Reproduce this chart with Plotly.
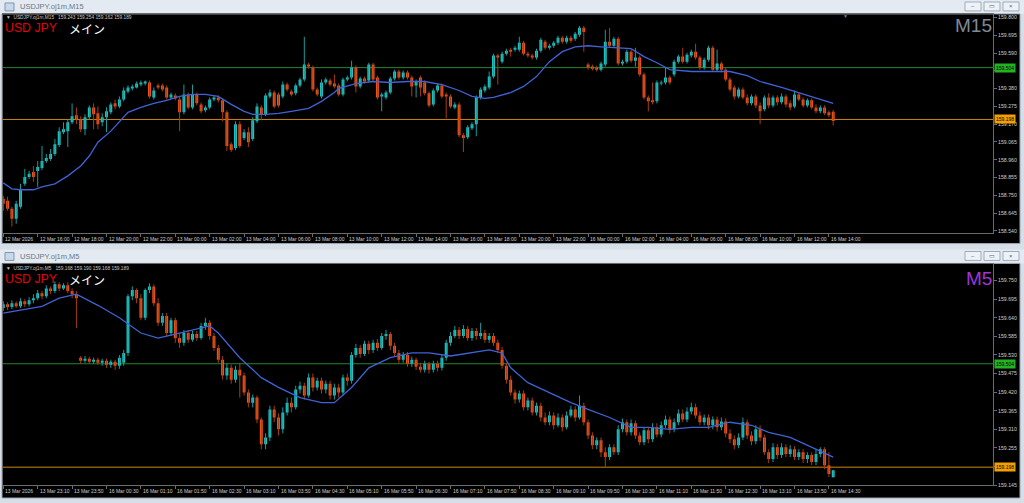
import plotly.graph_objects as go

W, H = 1024, 503

# ---------------- M15 (upper window) ----------------
M15_OPEN = [
158.730,158.718,158.671,158.612,158.683,158.818,158.859,158.888,158.894,158.912,
158.953,158.964,158.994,159.047,159.123,159.129,159.181,159.223,159.199,159.140,
159.211,159.269,159.234,159.181,159.211,159.240,159.293,159.275,159.316,159.363,
159.381,159.387,159.404,159.410,159.416,159.328,159.399,159.399,159.387,159.328,
159.340,159.316,159.240,159.346,159.269,159.346,159.287,159.252,159.269,159.316,
159.328,159.311,159.240,159.052,159.029,159.170,159.088,159.123,159.082,159.187,
159.269,159.228,159.334,159.357,159.346,159.334,159.404,159.363,159.352,159.399,
159.434,159.522,159.504,159.375,159.334,159.416,159.428,159.410,159.399,159.346,
159.434,159.445,159.504,159.393,159.440,159.428,159.522,159.445,159.334,159.328,
159.357,159.440,159.481,159.445,159.475,159.445,159.399,159.445,159.416,159.352,
159.287,159.369,159.399,159.346,159.334,159.269,159.287,159.105,159.093,159.146,
159.170,159.328,159.369,159.387,159.451,159.575,159.539,159.586,159.610,159.610,
159.610,159.651,159.586,159.575,159.563,159.604,159.657,159.621,159.633,159.651,
159.680,159.657,159.680,159.674,159.698,159.739,159.522,159.510,159.504,159.492,
159.522,159.657,159.633,159.674,159.528,159.539,159.598,159.545,159.563,159.463,
159.328,159.311,159.305,159.410,159.416,159.445,159.463,159.539,159.569,159.539,
159.575,159.598,159.563,159.504,159.551,159.621,159.492,159.528,159.492,159.434,
159.387,159.334,159.375,159.328,159.293,159.334,159.281,159.258,159.328,159.281,
159.328,159.299,159.334,159.293,159.275,159.346,159.316,159.281,159.311,159.269,
159.246,159.269,159.240,159.243]
M15_HIGH = [
158.747,158.742,158.683,158.718,158.818,158.906,158.894,158.923,158.953,159.041,
158.994,159.023,159.082,159.152,159.181,159.199,159.293,159.269,159.217,159.228,
159.281,159.293,159.275,159.234,159.269,159.299,159.316,159.334,159.387,159.399,
159.404,159.422,159.428,159.428,159.428,159.387,159.410,159.410,159.399,159.357,
159.352,159.334,159.404,159.357,159.404,159.357,159.299,159.281,159.328,159.340,
159.340,159.322,159.252,159.064,159.187,159.187,159.140,159.152,159.211,159.293,
159.281,159.352,159.375,159.369,159.357,159.422,159.416,159.375,159.410,159.445,
159.686,159.533,159.516,159.387,159.434,159.445,159.440,159.463,159.410,159.445,
159.457,159.545,159.516,159.451,159.451,159.533,159.533,159.457,159.357,159.369,
159.451,159.492,159.492,159.487,159.487,159.457,159.434,159.457,159.428,159.363,
159.381,159.410,159.410,159.357,159.346,159.299,159.299,159.117,159.164,159.181,
159.340,159.387,159.404,159.481,159.586,159.586,159.598,159.616,159.621,159.633,
159.686,159.662,159.598,159.586,159.616,159.680,159.668,159.645,159.662,159.692,
159.692,159.692,159.692,159.715,159.750,159.750,159.533,159.522,159.516,159.539,
159.727,159.739,159.686,159.686,159.551,159.610,159.610,159.621,159.575,159.475,
159.340,159.416,159.428,159.428,159.504,159.457,159.551,159.580,159.621,159.592,
159.610,159.645,159.575,159.563,159.633,159.633,159.610,159.539,159.504,159.445,
159.399,159.387,159.387,159.346,159.346,159.346,159.299,159.340,159.352,159.340,
159.340,159.352,159.346,159.311,159.369,159.357,159.328,159.322,159.322,159.287,
159.281,159.281,159.252,159.254]
M15_LOW = [
158.659,158.659,158.566,158.583,158.671,158.806,158.847,158.830,158.800,158.900,
158.941,158.953,158.982,159.035,159.111,159.035,159.170,159.170,159.123,159.105,
159.199,159.140,159.140,159.158,159.123,159.228,159.258,159.264,159.305,159.352,
159.369,159.381,159.393,159.399,159.322,159.316,159.375,159.363,159.316,159.316,
159.311,159.129,159.228,159.258,159.258,159.281,159.234,159.240,159.258,159.305,
159.299,159.187,159.011,159.006,159.017,159.029,159.076,159.035,159.070,159.176,
159.193,159.217,159.322,159.264,159.269,159.322,159.363,159.334,159.340,159.387,
159.422,159.498,159.363,159.334,159.322,159.404,159.393,159.381,159.334,159.334,
159.422,159.434,159.357,159.381,159.410,159.416,159.422,159.316,159.246,159.316,
159.346,159.428,159.434,159.434,159.434,159.334,159.328,159.334,159.340,159.269,
159.275,159.357,159.322,159.205,159.264,159.258,159.093,159.006,159.082,159.135,
159.099,159.316,159.357,159.375,159.440,159.404,159.528,159.575,159.569,159.598,
159.598,159.575,159.563,159.551,159.551,159.592,159.610,159.610,159.621,159.639,
159.645,159.645,159.651,159.662,159.686,159.598,159.492,159.487,159.481,159.481,
159.510,159.621,159.621,159.516,159.516,159.528,159.533,159.510,159.451,159.316,
159.246,159.287,159.293,159.399,159.404,159.404,159.451,159.528,159.528,159.528,
159.563,159.551,159.492,159.492,159.539,159.481,159.481,159.475,159.422,159.363,
159.316,159.322,159.316,159.281,159.281,159.264,159.170,159.246,159.264,159.269,
159.281,159.287,159.269,159.252,159.264,159.305,159.269,159.269,159.258,159.234,
159.234,159.223,159.211,159.162]
M15_CLOSE = [
158.701,158.671,158.612,158.701,158.788,158.859,158.877,158.859,158.918,158.953,
158.970,158.994,159.052,159.129,159.140,159.181,159.217,159.199,159.140,159.211,
159.269,159.228,159.170,159.211,159.246,159.287,159.275,159.316,159.369,159.387,
159.393,159.410,159.416,159.422,159.334,159.369,159.387,159.375,159.328,159.346,
159.322,159.240,159.346,159.269,159.346,159.293,159.246,159.269,159.316,159.328,
159.311,159.240,159.041,159.017,159.170,159.041,159.123,159.064,159.193,159.275,
159.228,159.340,159.357,159.275,159.281,159.404,159.375,159.346,159.399,159.434,
159.522,159.510,159.375,159.346,159.416,159.434,159.404,159.393,159.346,159.434,
159.445,159.504,159.393,159.440,159.422,159.522,159.434,159.328,159.346,159.357,
159.440,159.481,159.445,159.475,159.445,159.393,159.422,159.387,159.352,159.281,
159.369,159.399,159.334,159.334,159.275,159.287,159.105,159.088,159.152,159.170,
159.328,159.375,159.393,159.451,159.575,159.563,159.586,159.604,159.598,159.621,
159.651,159.586,159.575,159.563,159.604,159.668,159.621,159.633,159.651,159.680,
159.657,159.680,159.662,159.704,159.739,159.715,159.504,159.498,159.492,159.528,
159.657,159.633,159.674,159.528,159.539,159.598,159.545,159.563,159.463,159.328,
159.305,159.299,159.416,159.416,159.445,159.416,159.539,159.569,159.539,159.580,
159.598,159.563,159.504,159.551,159.621,159.492,159.528,159.492,159.434,159.375,
159.334,159.375,159.328,159.293,159.334,159.281,159.246,159.328,159.281,159.328,
159.299,159.334,159.287,159.269,159.346,159.316,159.281,159.311,159.269,159.246,
159.269,159.234,159.223,159.189]
M15_MA_IDX = [0,2,4,7,9,12,15,18,20,22,25,27,29,32,35,38,41,44,47,50,53,56,58,61,64,
              67,71,74,77,78,82,86,90,94,98,102,106,109,112,114,118,121,124,127,130,
              133,136,139,143,146,149,152,155,160,164,169,173,176,181,185,190,193]
M15_MA = [158.824,158.788,158.783,158.783,158.800,158.818,158.865,158.923,158.982,159.064,
          159.129,159.187,159.240,159.269,159.293,159.311,159.334,159.346,159.346,159.334,
          159.287,159.246,159.228,159.228,159.234,159.246,159.264,159.305,159.357,159.381,
          159.410,159.422,159.416,159.422,159.422,159.404,159.369,159.334,159.322,159.328,
          159.357,159.393,159.451,159.539,159.598,159.627,159.633,159.627,159.621,159.616,
          159.569,159.533,159.492,159.481,159.481,159.481,159.457,159.422,159.387,159.357,
          159.316,159.293]
M15_PRICE_TICKS = [158.540,158.645,158.750,158.855,158.960,159.065,159.170,159.275,
                   159.380,159.485,159.590,159.695,159.800]
M15_TIME_IDX = [0,8,16,24,32,40,48,56,64,72,80,88,96,104,112,120,128,136,144,152,160,168,176,184,192]
M15_TIME_TEXT = ["12 Mar 2026","12 Mar 16:00","12 Mar 18:00","12 Mar 20:00","12 Mar 22:00",
                 "13 Mar 00:00","13 Mar 02:00","13 Mar 04:00","13 Mar 06:00","13 Mar 08:00",
                 "13 Mar 10:00","13 Mar 12:00","13 Mar 14:00","13 Mar 16:00","13 Mar 18:00",
                 "13 Mar 20:00","13 Mar 22:00","16 Mar 00:00","16 Mar 02:00","16 Mar 04:00",
                 "16 Mar 06:00","16 Mar 08:00","16 Mar 10:00","16 Mar 12:00","16 Mar 14:00"]

# ---------------- M5 (lower window) ----------------
M5_OPEN = [
159.669,159.680,159.672,159.683,159.674,159.689,159.680,159.692,159.698,159.713,
159.704,159.727,159.719,159.739,159.727,159.736,159.719,159.710,159.522,159.513,
159.519,159.510,159.516,159.507,159.513,159.501,159.510,159.498,159.507,159.536,
159.704,159.722,159.698,159.640,159.722,159.733,159.683,159.625,159.645,159.595,
159.633,159.580,159.566,159.595,159.575,159.592,159.580,159.616,159.625,159.586,
159.551,159.516,159.469,159.492,159.457,159.486,159.469,159.419,159.389,159.404,
159.339,159.266,159.286,159.369,159.345,159.310,159.360,159.389,159.375,159.428,
159.439,159.410,159.463,159.434,159.454,159.428,159.445,159.410,159.434,159.419,
159.463,159.454,159.530,159.551,159.533,159.563,159.545,159.566,159.551,159.586,
159.592,159.557,159.536,159.516,159.530,159.504,159.516,159.495,159.486,159.504,
159.486,159.504,159.492,159.522,159.566,159.586,159.604,159.586,159.607,159.580,
159.601,159.586,159.595,159.575,159.586,159.566,159.545,159.498,159.457,159.419,
159.398,159.416,159.375,159.395,159.360,159.380,159.345,159.331,159.351,159.322,
159.345,159.316,159.351,159.369,159.345,159.380,159.331,159.292,159.263,159.278,
159.242,159.228,159.257,159.242,159.310,159.331,159.301,159.328,159.292,159.272,
159.307,159.281,159.316,159.295,159.322,159.339,159.310,159.331,159.357,159.339,
159.363,159.375,159.351,159.331,159.345,159.322,159.339,159.316,159.333,159.298,
159.281,159.263,159.286,159.331,159.292,159.275,159.310,159.286,159.242,159.222,
159.257,159.234,159.257,159.237,159.251,159.228,159.242,159.222,159.234,159.213,
159.237,159.251,159.204,159.168]
M5_HIGH = [
159.689,159.686,159.692,159.689,159.698,159.695,159.701,159.710,159.722,159.719,
159.736,159.733,159.748,159.745,159.742,159.745,159.727,159.719,159.527,159.527,
159.525,159.522,159.522,159.519,159.519,159.516,159.516,159.530,159.545,159.710,
159.733,159.727,159.710,159.727,159.742,159.739,159.698,159.654,159.654,159.640,
159.640,159.595,159.604,159.604,159.601,159.601,159.625,159.640,159.633,159.595,
159.560,159.527,159.504,159.501,159.498,159.507,159.478,159.428,159.413,159.410,
159.345,159.298,159.380,159.380,159.357,159.375,159.404,159.404,159.439,159.451,
159.448,159.475,159.475,159.463,159.463,159.454,159.454,159.445,159.445,159.472,
159.475,159.539,159.563,159.560,159.572,159.572,159.575,159.577,159.595,159.604,
159.598,159.566,159.545,159.539,159.539,159.525,159.522,159.507,159.513,159.510,
159.513,159.513,159.530,159.575,159.598,159.616,159.613,159.619,159.616,159.610,
159.610,159.625,159.604,159.595,159.595,159.575,159.554,159.507,159.469,159.428,
159.425,159.425,159.404,159.404,159.389,159.389,159.360,159.363,159.360,159.357,
159.354,159.363,159.380,159.378,159.410,159.389,159.339,159.301,159.286,159.286,
159.257,159.266,159.266,159.322,159.342,159.339,159.339,159.336,159.301,159.316,
159.316,159.328,159.328,159.333,159.351,159.348,159.342,159.369,159.369,159.375,
159.389,159.386,159.363,159.354,159.354,159.348,159.348,159.345,159.342,159.310,
159.292,159.298,159.345,159.339,159.304,159.322,159.322,159.295,159.251,159.269,
159.266,159.269,159.266,159.263,159.260,159.251,159.251,159.242,159.242,159.251,
159.257,159.257,159.242,159.190]
M5_LOW = [
159.660,159.663,159.666,159.669,159.669,159.672,159.674,159.683,159.692,159.695,
159.698,159.710,159.713,159.719,159.722,159.713,159.698,159.610,159.504,159.507,
159.504,159.504,159.501,159.498,159.492,159.492,159.486,159.489,159.498,159.527,
159.692,159.683,159.633,159.633,159.713,159.674,159.616,159.616,159.586,159.586,
159.566,159.551,159.557,159.566,159.569,159.572,159.575,159.604,159.575,159.542,
159.507,159.457,159.457,159.445,159.448,159.404,159.410,159.375,159.375,159.328,
159.251,159.251,159.275,159.331,159.292,159.298,159.351,159.360,159.369,159.416,
159.398,159.404,159.422,159.425,159.416,159.416,159.398,159.398,159.404,159.410,
159.439,159.445,159.522,159.522,159.527,159.533,159.536,159.542,159.545,159.575,
159.545,159.527,159.504,159.507,159.495,159.495,159.486,159.478,159.478,159.475,
159.478,159.481,159.484,159.513,159.557,159.580,159.577,159.580,159.572,159.572,
159.575,159.577,159.566,159.566,159.557,159.536,159.489,159.445,159.410,159.386,
159.389,159.366,159.366,159.351,159.351,159.333,159.322,159.322,159.310,159.316,
159.304,159.310,159.345,159.333,159.339,159.322,159.281,159.251,159.251,159.228,
159.198,159.219,159.234,159.234,159.301,159.292,159.292,159.281,159.263,159.263,
159.269,159.272,159.286,159.286,159.313,159.298,159.301,159.322,159.331,159.331,
159.354,159.342,159.322,159.322,159.310,159.310,159.304,159.307,159.286,159.269,
159.251,159.254,159.278,159.281,159.263,159.266,159.275,159.234,159.210,159.213,
159.222,159.225,159.228,159.228,159.219,159.219,159.210,159.210,159.204,159.204,
159.228,159.192,159.169,159.168]
M5_CLOSE = [
159.680,159.672,159.683,159.674,159.689,159.680,159.692,159.698,159.713,159.704,
159.727,159.719,159.739,159.727,159.736,159.719,159.710,159.698,159.513,159.519,
159.510,159.516,159.507,159.513,159.501,159.510,159.498,159.522,159.536,159.704,
159.722,159.698,159.640,159.722,159.733,159.683,159.625,159.645,159.595,159.633,
159.580,159.566,159.595,159.575,159.592,159.580,159.616,159.625,159.586,159.551,
159.516,159.469,159.492,159.457,159.486,159.469,159.419,159.389,159.404,159.339,
159.266,159.286,159.369,159.345,159.310,159.360,159.389,159.375,159.428,159.439,
159.410,159.463,159.434,159.454,159.428,159.445,159.410,159.434,159.419,159.463,
159.454,159.530,159.551,159.533,159.563,159.545,159.566,159.551,159.586,159.592,
159.557,159.536,159.516,159.530,159.504,159.516,159.495,159.486,159.504,159.486,
159.504,159.492,159.522,159.566,159.586,159.604,159.586,159.607,159.580,159.601,
159.586,159.595,159.575,159.586,159.566,159.545,159.498,159.457,159.419,159.398,
159.416,159.375,159.395,159.360,159.380,159.345,159.331,159.351,159.322,159.345,
159.316,159.351,159.369,159.345,159.380,159.331,159.292,159.263,159.278,159.242,
159.228,159.257,159.242,159.310,159.331,159.301,159.328,159.292,159.272,159.307,
159.281,159.316,159.295,159.322,159.339,159.310,159.331,159.357,159.339,159.363,
159.375,159.351,159.331,159.345,159.322,159.339,159.316,159.333,159.298,159.281,
159.263,159.286,159.331,159.292,159.275,159.310,159.286,159.242,159.222,159.257,
159.234,159.257,159.237,159.251,159.228,159.242,159.222,159.234,159.213,159.237,
159.251,159.204,159.178,159.189]
M5_MA_IDX = [0,4,9,13,17,22,27,32,36,41,46,48,50,55,60,64,69,74,77,81,85,90,95,99,104,
             109,113,116,118,122,127,132,136,141,146,150,155,160,164,169,174,178,183,188,193]
M5_MA = [159.654,159.663,159.674,159.698,159.710,159.677,159.640,159.595,159.580,159.595,
         159.610,159.616,159.595,159.522,159.463,159.434,159.404,159.389,159.389,159.434,
         159.492,159.522,159.536,159.536,159.527,159.536,159.545,159.536,159.492,159.448,
         159.419,159.389,159.369,159.345,159.316,159.316,159.310,159.316,159.316,159.331,
         159.322,159.301,159.286,159.257,159.228]
M5_PRICE_TICKS = [159.145,159.200,159.255,159.310,159.365,159.420,159.475,159.530,
                  159.585,159.640,159.695,159.750]
M5_TIME_IDX = [0,8,16,24,32,40,48,56,64,72,80,88,96,104,112,120,128,136,144,152,160,168,176,184,192]
M5_TIME_TEXT = ["13 Mar 2026","13 Mar 23:10","13 Mar 23:50","16 Mar 00:30","16 Mar 01:10",
                "16 Mar 01:50","16 Mar 02:30","16 Mar 03:10","16 Mar 03:50","16 Mar 04:30",
                "16 Mar 05:10","16 Mar 05:50","16 Mar 06:30","16 Mar 07:10","16 Mar 07:50",
                "16 Mar 08:30","16 Mar 09:10","16 Mar 09:50","16 Mar 10:30","16 Mar 11:10",
                "16 Mar 11:50","16 Mar 12:30","16 Mar 13:10","16 Mar 13:50","16 Mar 14:30"]

LEVEL_GREEN = 159.504
LEVEL_ORANGE = 159.198

for arr in (M15_OPEN, M15_HIGH, M15_LOW, M15_CLOSE, M5_OPEN, M5_HIGH, M5_LOW, M5_CLOSE):
    assert len(arr) == 194, len(arr)

# ---------------- styles ----------------
BULL = "#1ec8c8"
BEAR = "#f7561a"
WICK_UP = "#1b9a9a"
WICK_DN = "#a83c12"
MA_COLOR = "#3f62d6"
GREEN_LINE = "#23862a"
ORANGE_LINE = "#cc8a0c"
GREEN_LABEL = "#22b222"
ORANGE_LABEL = "#f0a000"
AXIS_COLOR = "#6a6a6a"
LABEL_COLOR = "#cfcfcf"
CHROME = "#e4eaf1"
SMALL = "Liberation Sans, Arial, sans-serif"


def px(x):
    return x / W


def py(y):
    return 1 - y / H


fig = go.Figure()


def add_panel(o, h, l, c, ma_idx, ma, xa, ya):
    idx = list(range(len(c)))
    up = [i for i in idx if c[i] >= o[i]]
    dn = [i for i in idx if c[i] < o[i]]
    for group, wcol in ((up, WICK_UP), (dn, WICK_DN)):
        wx, wy = [], []
        for i in group:
            wx += [i, i, None]
            wy += [l[i], h[i], None]
        fig.add_trace(go.Scatter(x=wx, y=wy, mode="lines", line=dict(color=wcol, width=1),
                                 xaxis=xa, yaxis=ya, hoverinfo="skip"))
    for group, bcol in ((up, BULL), (dn, BEAR)):
        fig.add_trace(go.Bar(x=group,
                             y=[max(abs(c[i] - o[i]), 0.0015) for i in group],
                             base=[min(o[i], c[i]) for i in group],
                             width=0.68, marker=dict(color=bcol, line=dict(width=0)),
                             xaxis=xa, yaxis=ya, hoverinfo="skip"))
    fig.add_trace(go.Scatter(x=ma_idx, y=ma, mode="lines",
                             line=dict(color=MA_COLOR, width=1.3),
                             xaxis=xa, yaxis=ya, hoverinfo="skip"))


add_panel(M15_OPEN, M15_HIGH, M15_LOW, M15_CLOSE, M15_MA_IDX, M15_MA, "x", "y")
add_panel(M5_OPEN, M5_HIGH, M5_LOW, M5_CLOSE, M5_MA_IDX, M5_MA, "x2", "y2")

X0, X1 = 3, 993          # plot area left/right in pixels
BAR0, BARW = 3.3, 4.3    # pixel position of first bar and bar spacing
xrange_ = [(X0 - BAR0) / BARW, (X1 - BAR0) / BARW]
Y15 = [158.530, 159.821]
Y5 = [159.145, 159.798]
TOP_PX = (14, 234)
BOT_PX = (266, 488)


def tick_text(ticks, yr, span_px):
    """MT4 hides a scale label when a level label sits over it."""
    per_px = (yr[1] - yr[0]) / span_px
    out = []
    for v in ticks:
        hidden = any(abs(v - lvl) < 4 * per_px for lvl in (LEVEL_GREEN, LEVEL_ORANGE))
        out.append("" if hidden else f"{v:.3f}")
    return out


common_x = dict(range=xrange_, showgrid=False, zeroline=False, showline=True,
                linecolor=AXIS_COLOR, linewidth=1, mirror=True, ticks="outside",
                ticklen=3, tickcolor=AXIS_COLOR, showticklabels=False, fixedrange=True)
common_y = dict(side="right", showgrid=False, zeroline=False, showline=True,
                linecolor=AXIS_COLOR, linewidth=1, mirror=True, ticks="outside",
                ticklen=3, tickcolor=AXIS_COLOR, tickfont=dict(family=SMALL, size=5.2, color=LABEL_COLOR),
                fixedrange=True)

fig.update_layout(
    width=W, height=H, autosize=False,
    margin=dict(l=0, r=0, t=0, b=0, pad=0),
    paper_bgcolor="#d6dee7", plot_bgcolor="rgba(0,0,0,0)",
    showlegend=False, barmode="overlay", hovermode=False,
    xaxis=dict(domain=[px(X0), px(X1)], anchor="y", tickvals=M15_TIME_IDX, **common_x),
    yaxis=dict(domain=[py(TOP_PX[1]), py(TOP_PX[0])], anchor="x", range=Y15,
               tickvals=M15_PRICE_TICKS,
               ticktext=tick_text(M15_PRICE_TICKS, Y15, TOP_PX[1] - TOP_PX[0]), **common_y),
    xaxis2=dict(domain=[px(X0), px(X1)], anchor="y2", tickvals=M5_TIME_IDX, **common_x),
    yaxis2=dict(domain=[py(BOT_PX[1]), py(BOT_PX[0])], anchor="x2", range=Y5,
                tickvals=M5_PRICE_TICKS,
                ticktext=tick_text(M5_PRICE_TICKS, Y5, BOT_PX[1] - BOT_PX[0]), **common_y),
)

shapes = []
# window chrome
for (t0, t1, b0, b1) in ((0, 14, 14, 245), (251, 265, 265, 501)):
    shapes.append(dict(type="rect", xref="paper", yref="paper", x0=0, x1=1, y0=py(t1), y1=py(t0),
                       fillcolor=CHROME, line=dict(width=0), layer="below"))
    shapes.append(dict(type="rect", xref="paper", yref="paper", x0=px(2), x1=px(1020), y0=py(b1), y1=py(b0),
                       fillcolor="black", line=dict(color="#9aa6b3", width=1), layer="below"))
    # icon
    shapes.append(dict(type="rect", xref="paper", yref="paper", x0=px(5), x1=px(14), y0=py(t0 + 11), y1=py(t0 + 3),
                       fillcolor="#c9d8e8", line=dict(color="#7d97b3", width=1), layer="below"))
    # buttons
    for bx in (965, 984, 1003):
        shapes.append(dict(type="rect", xref="paper", yref="paper", x0=px(bx), x1=px(bx + 16),
                           y0=py(t0 + 11), y1=py(t0 + 2),
                           fillcolor="#eef2f7", line=dict(color="#9eabb9", width=1), layer="below"))
# horizontal levels in both panels
for ya in ("y", "y2"):
    xd = "x domain" if ya == "y" else "x2 domain"
    shapes.append(dict(type="line", xref=xd, yref=ya, x0=0, x1=1, y0=LEVEL_GREEN, y1=LEVEL_GREEN,
                       line=dict(color=GREEN_LINE, width=1), layer="below"))
    shapes.append(dict(type="line", xref=xd, yref=ya, x0=0, x1=1, y0=LEVEL_ORANGE, y1=LEVEL_ORANGE,
                       line=dict(color=ORANGE_LINE, width=1), layer="below"))
fig.update_layout(shapes=shapes)

ann = []


def text(x, y, s, size, color, family=SMALL, xanchor="left", **kw):
    ann.append(dict(x=px(x), y=py(y), xref="paper", yref="paper", text=s, showarrow=False,
                    xanchor=xanchor, yanchor="middle", borderpad=0,
                    font=dict(family=family, size=size, color=color), **kw))


# title bars
text(19, 7, "USDJPY.oj1m,M15", 7.5, "#6b7785")
text(19, 258, "USDJPY.oj1m,M5", 7.5, "#6b7785")
for t0 in (0, 251):
    for bx, g in ((965, "–"), (984, "▭"), (1003, "×")):
        text(bx + 8, t0 + 6.5, g, 6, "#56626f", xanchor="center")

# info lines
text(5, 18, "▼  USDJPY.oj1m,M15   " + " ".join(f"{v:.3f}" for v in
     (M15_OPEN[-1], M15_HIGH[-1], M15_LOW[-1], M15_CLOSE[-1])), 4.8, "#c8c8c8")
text(5, 270.5, "▼  USDJPY.oj1m,M5   " + " ".join(f"{v:.3f}" for v in
     (M5_OPEN[-1], M5_HIGH[-1], M5_LOW[-1], M5_CLOSE[-1])), 4.8, "#c8c8c8")

# symbol captions
for yy in (28.5, 281):
    text(4, yy, "USD JPY", 12.3, "#e4000a", family="Liberation Sans, Arial, sans-serif")
    text(68, yy, "メイン", 12, "#ffffff", family="Noto Sans CJK JP, sans-serif")
text(993, 26, "M15", 19, "#7f8a96", family="Liberation Sans, Arial, sans-serif", xanchor="right")
text(993, 280, "M5", 19, "#9b36d8", family="Liberation Sans, Arial, sans-serif", xanchor="right")
text(845, 16.5, "▼", 5, "#7a7a7a", xanchor="center")

# price labels for levels
for ya in ("y", "y2"):
    for lvl, col in ((LEVEL_GREEN, GREEN_LABEL), (LEVEL_ORANGE, ORANGE_LABEL)):
        ann.append(dict(x=px(994), y=lvl, xref="paper", yref=ya, text=f"{lvl:.3f}", showarrow=False,
                        xanchor="left", yanchor="middle", bgcolor=col, borderpad=1,
                        font=dict(family=SMALL, size=5, color="#000000")))

# time labels (MT4 style: text starts right of tick)
for xa, idxs, labels, yy in (("x", M15_TIME_IDX, M15_TIME_TEXT, 240),
                             ("x2", M5_TIME_IDX, M5_TIME_TEXT, 494)):
    for i, s in zip(idxs, labels):
        ann.append(dict(x=i, y=py(yy), xref=xa, yref="paper", text=s, showarrow=False,
                        xanchor="left", yanchor="middle", xshift=1, borderpad=0,
                        font=dict(family=SMALL, size=5, color=LABEL_COLOR)))

fig.update_layout(annotations=ann)

fig.write_html("out.html", config={"displayModeBar": False, "staticPlot": True},
               post_script="document.body.style.margin='0';document.body.style.overflow='hidden';")
